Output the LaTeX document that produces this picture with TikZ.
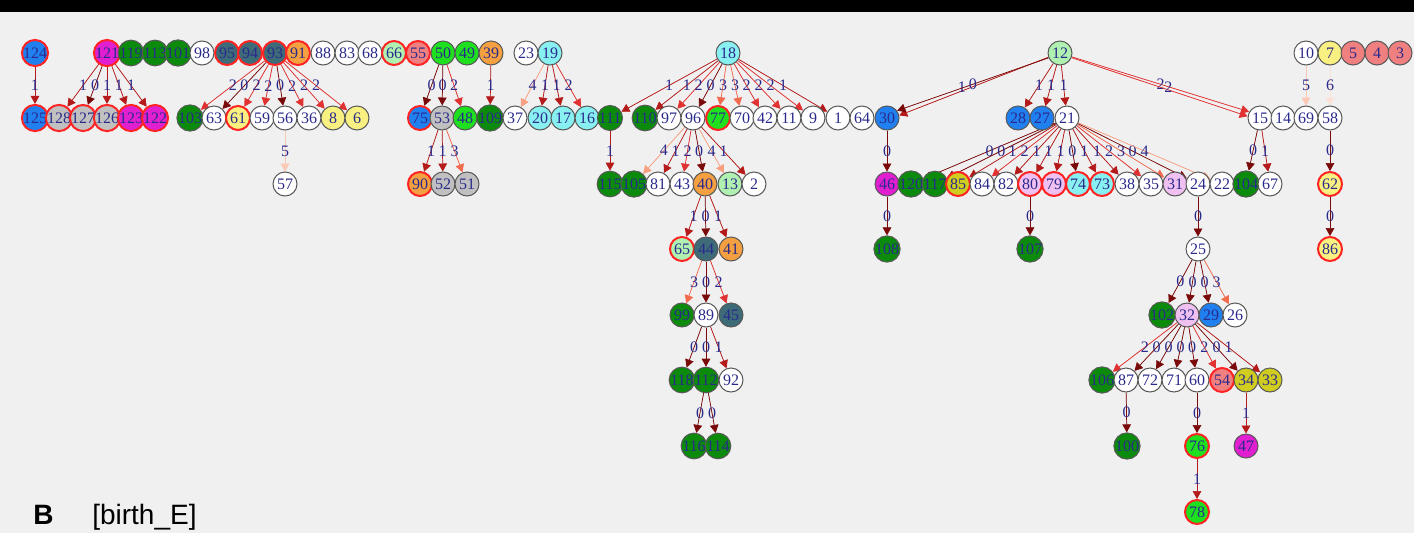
\documentclass[tikz,border=0pt]{standalone}
\usepackage{fontspec}
\setmainfont{Liberation Serif}
\newfontfamily\labelsans{Liberation Sans}
\usetikzlibrary{arrows.meta}
\pgfdeclarelayer{bg}
\pgfdeclarelayer{edges}
\pgfsetlayers{bg,edges,main}

\definecolor{paper}{HTML}{F0F0F0}
\definecolor{numblue}{HTML}{2A2A8C}
\definecolor{ringgray}{HTML}{585858}
\definecolor{ringred}{HTML}{FF2424}
\definecolor{fBlue}{HTML}{2080F0}
\definecolor{fMag}{HTML}{E020D0}
\definecolor{fDkGreen}{HTML}{0B8A0B}
\definecolor{fTeal}{HTML}{3D6B78}
\definecolor{fOrange}{HTML}{F4A040}
\definecolor{fLtGreen}{HTML}{B0F0B0}
\definecolor{fSalmon}{HTML}{F08080}
\definecolor{fLime}{HTML}{1EE01E}
\definecolor{fCyan}{HTML}{88F0F0}
\definecolor{fYellow}{HTML}{F8F080}
\definecolor{fGray}{HTML}{C0C0C0}
\definecolor{fOlive}{HTML}{D0CC20}
\definecolor{fLav}{HTML}{F0C0F0}
\definecolor{w0}{HTML}{7A0A0A}
\definecolor{w1}{HTML}{B41A1A}
\definecolor{w2}{HTML}{E03232}
\definecolor{w3}{HTML}{F26A4E}
\definecolor{w4}{HTML}{F8A080}
\definecolor{w5}{HTML}{FBC8B4}
\definecolor{w6}{HTML}{FCE2D6}

% vertex: \putnode{id}{x}{y}{style}
\newcommand\putnode[4]{\node[nd,#4] (n#1) at (#2,#3) {#1};}
% weighted arc: \putedge{from}{to}{weight}
\newcommand\putedge[3]{\draw[e#3] (n#1) -- node[lbl]{#3} (n#2);}

\begin{document}
\begin{tikzpicture}[x=0.75pt,y=-0.75pt,
  nd/.style={circle, minimum size=18pt, inner sep=0pt, fill=white,
    draw=ringgray, line width=0.75pt, text=numblue,
    font=\fontsize{12}{12}\selectfont},
  rr/.style={draw=ringred, line width=1.5pt},
  cB/.style={fill=fBlue}, cM/.style={fill=fMag}, cG/.style={fill=fDkGreen},
  cT/.style={fill=fTeal}, cO/.style={fill=fOrange}, cL/.style={fill=fLtGreen},
  cS/.style={fill=fSalmon}, cV/.style={fill=fLime}, cC/.style={fill=fCyan},
  cY/.style={fill=fYellow}, cA/.style={fill=fGray}, cK/.style={fill=fOlive},
  cP/.style={fill=fLav}, cW/.style={},
  arc/.style={line width=0.55pt, -{Triangle[length=6pt,width=6.5pt]}},
  e0/.style={arc, draw=w0, fill=w0}, e1/.style={arc, draw=w1, fill=w1},
  e2/.style={arc, draw=w2, fill=w2}, e3/.style={arc, draw=w3, fill=w3},
  e4/.style={arc, draw=w4, fill=w4}, e5/.style={arc, draw=w5, fill=w5},
  e6/.style={arc, draw=w6, fill=w6},
  lbl/.style={midway, inner sep=0pt, text=numblue, fill=none, draw=none,
    font=\fontsize{12}{12}\selectfont},
  tag/.style={anchor=base west, inner sep=0pt, text=black,
    font=\labelsans\fontsize{21}{21}\selectfont}]

\useasboundingbox (0,0) rectangle (1414,533);
\begin{pgfonlayer}{bg}
  \fill[paper] (0,0) rectangle (1414,533);
  \fill[black] (0,0) rectangle (1414,12);
\end{pgfonlayer}

% ---- level 0
\putnode{124}{35}{53}{cB,rr}
\putnode{121}{107}{53}{cM,rr}
\putnode{119}{131}{53}{cG}
\putnode{113}{155}{53}{cG}
\putnode{101}{178}{53}{cG}
\putnode{98}{202}{53}{cW}
\putnode{95}{227}{53}{cT,rr}
\putnode{94}{250}{53}{cT,rr}
\putnode{93}{275}{53}{cT,rr}
\putnode{91}{298}{53}{cO,rr}
\putnode{88}{323}{53}{cW}
\putnode{83}{347}{53}{cW}
\putnode{68}{370}{53}{cW}
\putnode{66}{394}{53}{cL,rr}
\putnode{55}{418}{53}{cS,rr}
\putnode{50}{443}{53}{cV}
\putnode{49}{467}{53}{cV}
\putnode{39}{491}{53}{cO}
\putnode{23}{526}{53}{cW}
\putnode{19}{550}{53}{cC}
\putnode{18}{728}{53}{cC}
\putnode{12}{1060}{53}{cL}
\putnode{10}{1306}{53}{cW}
\putnode{7}{1330}{53}{cY}
\putnode{5}{1353}{53}{cS}
\putnode{4}{1377}{53}{cS}
\putnode{3}{1400}{53}{cS}

% ---- level 1
\putnode{125}{35}{118}{cB,rr}
\putnode{128}{59}{118}{cA,rr}
\putnode{127}{83}{118}{cA,rr}
\putnode{126}{107}{118}{cA,rr}
\putnode{123}{131}{118}{cM,rr}
\putnode{122}{155}{118}{cM,rr}
\putnode{103}{190}{118}{cG}
\putnode{63}{214}{118}{cW}
\putnode{61}{238}{118}{cY,rr}
\putnode{59}{262}{118}{cW}
\putnode{56}{285}{118}{cW}
\putnode{36}{309}{118}{cW}
\putnode{8}{333}{118}{cY}
\putnode{6}{357}{118}{cY}
\putnode{75}{420}{118}{cB,rr}
\putnode{53}{442}{118}{cA}
\putnode{48}{465}{118}{cV}
\putnode{109}{490}{118}{cG}
\putnode{37}{515}{118}{cW}
\putnode{20}{540}{118}{cC}
\putnode{17}{563}{118}{cC}
\putnode{16}{587}{118}{cC}
\putnode{111}{610}{118}{cG}
\putnode{110}{645}{118}{cG}
\putnode{97}{669}{118}{cW}
\putnode{96}{693}{118}{cW}
\putnode{77}{718}{118}{cV,rr}
\putnode{70}{742}{118}{cW}
\putnode{42}{765}{118}{cW}
\putnode{11}{789}{118}{cW}
\putnode{9}{813}{118}{cW}
\putnode{1}{838}{118}{cW}
\putnode{64}{862}{118}{cW}
\putnode{30}{887}{118}{cB}
\putnode{28}{1018}{118}{cB}
\putnode{27}{1042}{118}{cB}
\putnode{21}{1067}{118}{cW}
\putnode{15}{1260}{118}{cW}
\putnode{14}{1283}{118}{cW}
\putnode{69}{1306}{118}{cW}
\putnode{58}{1330}{118}{cW}

% ---- level 2
\putnode{57}{285}{184}{cW}
\putnode{90}{420}{184}{cO,rr}
\putnode{52}{443}{184}{cA}
\putnode{51}{467}{184}{cA}
\putnode{115}{610}{184}{cG}
\putnode{105}{634}{184}{cG}
\putnode{81}{658}{184}{cW}
\putnode{43}{682}{184}{cW}
\putnode{40}{705}{184}{cO}
\putnode{13}{730}{184}{cL}
\putnode{2}{754}{184}{cW}
\putnode{46}{887}{184}{cM}
\putnode{120}{911}{184}{cG}
\putnode{117}{935}{184}{cG}
\putnode{85}{958}{184}{cK,rr}
\putnode{84}{982}{184}{cW}
\putnode{82}{1006}{184}{cW}
\putnode{80}{1030}{184}{cP,rr}
\putnode{79}{1054}{184}{cP,rr}
\putnode{74}{1078}{184}{cC,rr}
\putnode{73}{1102}{184}{cC,rr}
\putnode{38}{1127}{184}{cW}
\putnode{35}{1151}{184}{cW}
\putnode{31}{1175}{184}{cP}
\putnode{24}{1198}{184}{cW}
\putnode{22}{1222}{184}{cW}
\putnode{104}{1246}{184}{cG}
\putnode{67}{1270}{184}{cW}
\putnode{62}{1330}{184}{cY,rr}

% ---- level 3
\putnode{65}{682}{249}{cL,rr}
\putnode{44}{706}{249}{cT}
\putnode{41}{731}{249}{cO}
\putnode{108}{887}{249}{cG}
\putnode{107}{1030}{249}{cG}
\putnode{25}{1198}{249}{cW}
\putnode{86}{1330}{249}{cY,rr}

% ---- level 4
\putnode{99}{682}{315}{cG}
\putnode{89}{706}{315}{cW}
\putnode{45}{731}{315}{cT}
\putnode{102}{1162}{315}{cG}
\putnode{32}{1187}{315}{cP}
\putnode{29}{1211}{315}{cB}
\putnode{26}{1235}{315}{cW}

% ---- level 5
\putnode{118}{682}{380}{cG}
\putnode{112}{706}{380}{cG}
\putnode{92}{731}{380}{cW}
\putnode{106}{1102}{380}{cG}
\putnode{87}{1126}{380}{cW}
\putnode{72}{1150}{380}{cW}
\putnode{71}{1174}{380}{cW}
\putnode{60}{1197}{380}{cW}
\putnode{54}{1222}{380}{cS,rr}
\putnode{34}{1246}{380}{cK}
\putnode{33}{1270}{380}{cK}

% ---- level 6 and 7
\putnode{116}{694}{446}{cG}
\putnode{114}{718}{446}{cG}
\putnode{100}{1127}{446}{cG}
\putnode{76}{1197}{446}{cV,rr}
\putnode{47}{1246}{446}{cM}
\putnode{78}{1197}{512}{cV,rr}

% ---- weighted arcs
\begin{pgfonlayer}{edges}
\putedge{124}{125}{1}
\putedge{121}{128}{1}\putedge{121}{127}{0}\putedge{121}{126}{1}
\putedge{121}{123}{1}\putedge{121}{122}{1}
\putedge{93}{103}{2}\putedge{93}{63}{0}\putedge{93}{61}{2}\putedge{93}{59}{2}
\putedge{93}{56}{0}\putedge{93}{36}{2}\putedge{93}{8}{2}\putedge{93}{6}{2}
\putedge{56}{57}{5}
\putedge{50}{75}{0}\putedge{50}{53}{0}\putedge{50}{48}{2}
\putedge{39}{109}{1}
\putedge{53}{90}{1}\putedge{53}{52}{1}\putedge{53}{51}{3}
\putedge{19}{37}{4}\putedge{19}{20}{1}\putedge{19}{17}{1}\putedge{19}{16}{2}
\putedge{18}{111}{1}\putedge{18}{110}{1}\putedge{18}{97}{2}\putedge{18}{96}{0}
\putedge{18}{77}{3}\putedge{18}{70}{3}\putedge{18}{42}{2}\putedge{18}{11}{2}
\putedge{18}{9}{2}\putedge{18}{1}{1}
\putedge{111}{115}{1}
\putedge{96}{105}{4}\putedge{96}{81}{1}\putedge{96}{43}{2}\putedge{96}{40}{0}
\putedge{96}{13}{4}\putedge{96}{2}{1}
\putedge{40}{65}{1}\putedge{40}{44}{0}\putedge{40}{41}{1}
\putedge{44}{99}{3}\putedge{44}{89}{0}\putedge{44}{45}{2}
\putedge{89}{118}{0}\putedge{89}{112}{0}\putedge{89}{92}{1}
\putedge{112}{116}{0}\putedge{112}{114}{0}
% parallel arcs out of 12
\draw[e1] (n12.200) -- node[lbl,pos=0.58,yshift=3pt]{1} (n30.12);
\draw[e0] (n12.203) -- node[lbl,pos=0.5]{0} (n30.36);
\putedge{12}{28}{1}\putedge{12}{27}{1}\putedge{12}{21}{1}
\draw[e2] (n12.342) -- node[lbl,pos=0.5]{2} (n15.150);
\draw[e2] (n12.338) -- node[lbl,pos=0.55,yshift=2.3pt]{2} (n15.172);
\putedge{30}{46}{0}\putedge{46}{108}{0}
\putedge{21}{120}{0}\putedge{21}{117}{0}\putedge{21}{85}{1}\putedge{21}{84}{2}
\putedge{21}{82}{1}\putedge{21}{80}{1}\putedge{21}{79}{1}\putedge{21}{74}{0}
\putedge{21}{73}{1}\putedge{21}{38}{1}\putedge{21}{35}{2}\putedge{21}{31}{3}
\putedge{21}{24}{0}\putedge{21}{22}{4}
\putedge{80}{107}{0}
\putedge{15}{104}{0}\putedge{15}{67}{1}
\putedge{10}{69}{5}\putedge{7}{58}{6}
\putedge{58}{62}{0}\putedge{62}{86}{0}
\putedge{24}{25}{0}
\putedge{25}{102}{0}\putedge{25}{32}{0}\putedge{25}{29}{0}\putedge{25}{26}{3}
\putedge{32}{106}{2}\putedge{32}{87}{0}\putedge{32}{72}{0}\putedge{32}{71}{0}
\putedge{32}{60}{0}\putedge{32}{54}{2}\putedge{32}{34}{0}\putedge{32}{33}{1}
\putedge{87}{100}{0}\putedge{60}{76}{0}\putedge{76}{78}{1}\putedge{34}{47}{1}
\end{pgfonlayer}

% ---- panel caption
\node[tag, font=\labelsans\bfseries\fontsize{21}{21}\selectfont] (panel) at (33,524) {B};
\node[tag] (panelname) at (92,524) {[birth\_E]};
\end{tikzpicture}
\end{document}
